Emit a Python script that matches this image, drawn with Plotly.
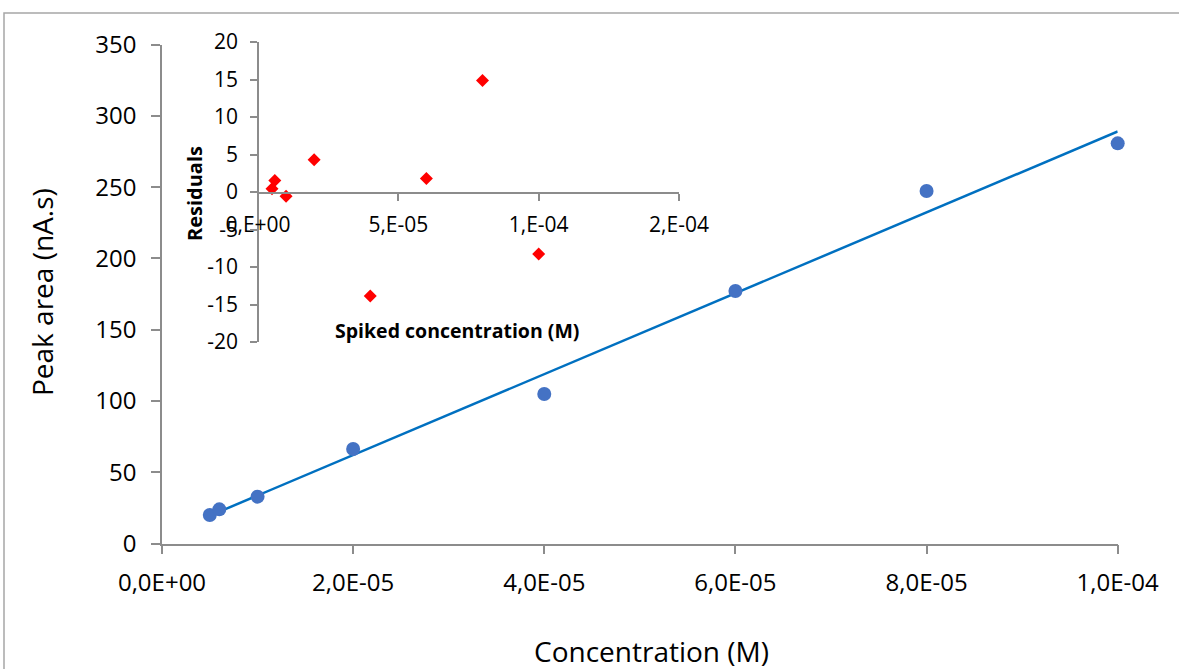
import numpy as np
import plotly.graph_objects as go

# ---- data ----
conc = [5e-6, 6e-6, 1e-5, 2e-5, 4e-5, 6e-5, 8e-5, 1e-4]
peak_area = [20.1, 24.1, 33.0, 66.4, 105.0, 177.2, 247.3, 280.7]

spiked_conc = [5e-6, 6e-6, 1e-5, 2e-5, 4e-5, 6e-5, 8e-5, 1e-4]
residuals = [0.45, 1.52, -0.58, 4.29, -13.85, 1.79, 14.88, -8.27]

main_xticks = [0, 2e-5, 4e-5, 6e-5, 8e-5, 1e-4]
main_xtext = ["0,0E+00", "2,0E-05", "4,0E-05", "6,0E-05", "8,0E-05", "1,0E-04"]
main_yticks = [0, 50, 100, 150, 200, 250, 300, 350]

inset_xticks = [0, 5e-5, 1e-4, 1.5e-4]
inset_xtext = ["0,E+00", "5,E-05", "1,E-04", "2,E-04"]
inset_yticks = [20, 15, 10, 5, 0, -5, -10, -15, -20]
inset_ytext = ["20", "15", "10", "5", "0", "-5", "-10", "-15", "-20"]

# linear fit line
slope, intercept = np.polyfit(conc, peak_area, 1)
fit_x = [min(conc), max(conc)]
fit_y = [slope * v + intercept for v in fit_x]

W, H = 1179, 669
AX = "#8c8c8c"
FONT = "Open Sans"

fig = go.Figure()

fig.add_trace(go.Scatter(x=fit_x, y=fit_y, mode="lines",
                         line=dict(color="#0070C0", width=2.5),
                         xaxis="x", yaxis="y", showlegend=False, hoverinfo="skip",
                         cliponaxis=False))
fig.add_trace(go.Scatter(x=conc, y=peak_area, mode="markers",
                         marker=dict(color="#4472C4", size=14, symbol="circle"),
                         xaxis="x", yaxis="y", showlegend=False, cliponaxis=False))
fig.add_trace(go.Scatter(x=spiked_conc, y=residuals, mode="markers",
                         marker=dict(color="#FF0000", size=10, symbol="diamond"),
                         xaxis="x2", yaxis="y2", showlegend=False, cliponaxis=False))

def px_x(p):
    return p / W

def px_y(p):
    return 1 - p / H

common = dict(showgrid=False, zeroline=False, showline=True, linecolor=AX, linewidth=1.5,
              ticks="outside", tickcolor=AX, tickwidth=1.5, automargin=False)

fig.update_layout(
    width=W, height=H,
    margin=dict(l=0, r=0, t=0, b=0, pad=0, autoexpand=False),
    paper_bgcolor="white", plot_bgcolor="rgba(0,0,0,0)",
    font=dict(family=FONT, color="black"),
    xaxis=dict(domain=[px_x(162), px_x(1117.7)], range=[0, 1e-4],
               tickvals=main_xticks, ticktext=main_xtext, ticklen=9,
               tickfont=dict(size=24, family=FONT, color="black"),
               ticklabelstandoff=8, anchor="y", **common),
    yaxis=dict(domain=[px_y(543.7), px_y(44.5)], range=[0, 350],
               tickvals=main_yticks, ticklen=9,
               tickfont=dict(size=24, family=FONT, color="black"),
               ticklabelstandoff=10, anchor="x", **common),
    xaxis2=dict(domain=[px_x(258), px_x(679)], range=[0, 1.5e-4],
                tickvals=inset_xticks, ticktext=inset_xtext, ticklen=7,
                tickfont=dict(size=21, family=FONT, color="black"),
                ticklabelstandoff=6, anchor="free", position=px_y(193), **common),
    yaxis2=dict(domain=[px_y(342), px_y(42)], range=[-20, 20],
                tickvals=inset_yticks, ticktext=inset_ytext, ticklen=7,
                tickfont=dict(size=21, family=FONT, color="black"),
                ticklabelstandoff=8, anchor="free", position=px_x(258), **common),
    shapes=[dict(type="rect", xref="paper", yref="paper",
                 x0=px_x(4), y0=px_y(13), x1=1.02, y1=-0.02,
                 line=dict(color="#a6a6a6", width=1.5), fillcolor="rgba(0,0,0,0)",
                 layer="below")],
    annotations=[
        dict(text="Concentration (M)", xref="paper", yref="paper",
             x=px_x(652), y=px_y(651), xanchor="center", yanchor="middle",
             showarrow=False, font=dict(size=28, family=FONT, color="black")),
        dict(text="Peak area (nA.s)", xref="paper", yref="paper",
             x=px_x(42), y=px_y(292), xanchor="center", yanchor="middle", textangle=-90,
             showarrow=False, font=dict(size=28, family=FONT, color="black")),
        dict(text="<b>Residuals</b>", xref="paper", yref="paper",
             x=px_x(194), y=px_y(194), xanchor="center", yanchor="middle", textangle=-90,
             showarrow=False, font=dict(size=20, family=FONT, color="black")),
        dict(text="<b>Spiked concentration (M)</b>", xref="paper", yref="paper",
             x=px_x(457), y=px_y(330), xanchor="center", yanchor="middle",
             showarrow=False, font=dict(size=19.5, family=FONT, color="black")),
    ],
)

fig.write_html("out.html",
               config={"displayModeBar": False},
               post_script="document.body.style.margin='0';document.body.style.overflow='hidden';")
